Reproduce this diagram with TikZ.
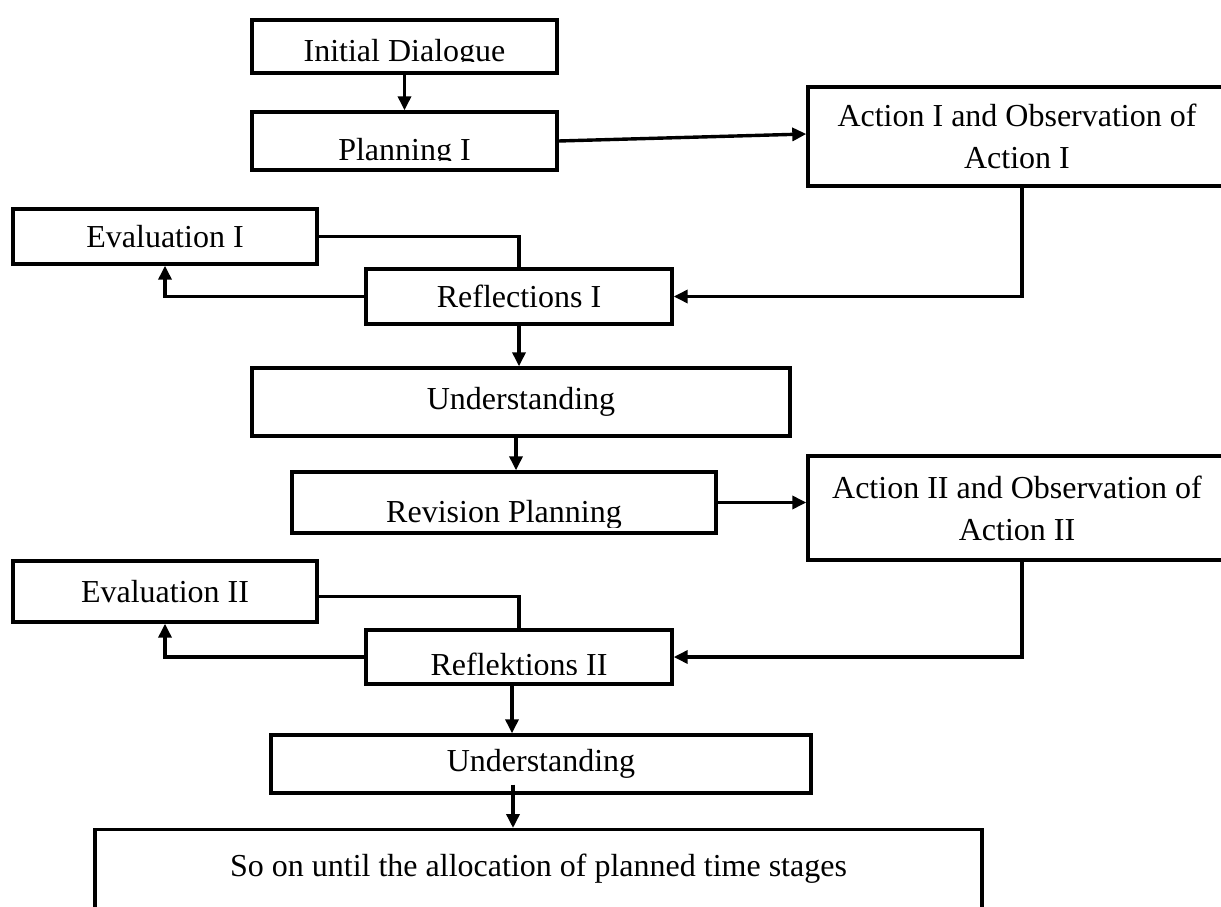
\documentclass[tikz,border=0pt]{standalone}
\usepackage{fontspec}
\setmainfont{Liberation Serif}
\usetikzlibrary{arrows.meta}

\tikzset{
  box/.style={draw,line width=3.4pt,inner sep=0pt,align=center},
  link/.style={line width=3.4pt,-{Triangle[length=14pt,width=13pt]}},
  tie/.style={line width=3.4pt},
  % text that runs out of the bottom of its box
  cut/.style n args={3}{path picture={
      \clip ([yshift=-3pt]path picture bounding box.north west)
        rectangle ([yshift=#3]path picture bounding box.south east);
      \node[anchor=base,inner sep=0pt] at ([yshift=#2]path picture bounding box.south) {#1};}}
}

\begin{document}
\begin{tikzpicture}
  [x=1pt,y=-1pt,font=\fontsize{32}{42}\selectfont]
  \useasboundingbox (0,0) rectangle (1221,907);
  \node[box,minimum width=305pt,minimum height=53pt,cut={Initial Dialogue}{11pt}{11pt}] (init) at (404.5,46.5) {};
  \node[box,minimum width=305pt,minimum height=58pt,cut={Planning I}{10pt}{10pt}] (plan1) at (404.5,141) {};
  \node[box,minimum width=418pt,minimum height=99pt] (act1) at (1017,136.5) {Action I and Observation of\\Action I};
  \node[box,minimum width=304pt,minimum height=55pt] (eval1) at (165,236.5) {Evaluation I};
  \node[box,minimum width=306pt,minimum height=55pt] (refl1) at (519,296.5) {Reflections I};
  \node[box,minimum width=538pt,minimum height=68pt] (und1) at (521,402) {Understanding};
  \node[box,minimum width=424pt,minimum height=61pt,cut={Revision Planning}{11pt}{6pt}] (rev) at (504,502.5) {};
  \node[box,minimum width=418pt,minimum height=104pt] (act2) at (1017,508) {Action II and Observation of\\Action II};
  \node[box,minimum width=304pt,minimum height=61pt] (eval2) at (165,591.5) {Evaluation II};
  \node[box,minimum width=306pt,minimum height=54pt,cut={Reflektions II}{9pt}{10pt}] (refl2) at (519,657) {};
  \node[box,minimum width=540pt,minimum height=58pt] (und2) at (541,764) {Understanding};
  \node[box,minimum width=887pt,anchor=north,inner ysep=25pt,text height=22pt,text depth=80pt] (last) at (538.5,828) {So on until the allocation of planned time stages};

  \draw[link] (init) -- (plan1);
  \draw[link] (plan1.east) -- ([yshift=2.5pt]act1.west);
  \draw[link] ([xshift=5pt]act1.south) |- (refl1.east);
  \draw[tie] (eval1.east) -| (refl1.north);
  \draw[link] (refl1.west) -| (eval1.south);
  \draw[link] (refl1.south) -- (refl1.south |- und1.north);
  \draw[link] ([xshift=-5pt]und1.south) -- ([xshift=-5pt]und1.south |- rev.north);
  \draw[link] (rev.east) -- (rev.east -| act2.west);
  \draw[link] ([xshift=5pt]act2.south) |- (refl2.east);
  \draw[tie] ([yshift=-5pt]eval2.east) -| (refl2.north);
  \draw[link] (refl2.west) -| (eval2.south);
  \draw[link] ([xshift=-7pt]refl2.south) -- ([xshift=-7pt]refl2.south |- und2.north);
  \draw[link] ([xshift=-28pt,yshift=10pt]und2.south) -- ([xshift=-28pt]und2.south |- last.north);
\end{tikzpicture}
\end{document}
